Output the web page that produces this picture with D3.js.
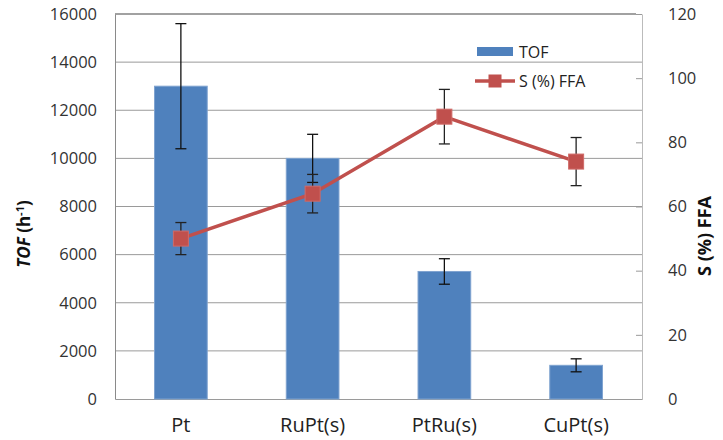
<!DOCTYPE html>
<html>
<head>
<meta charset="utf-8">
<script src="https://cdn.jsdelivr.net/npm/d3@7"></script>
<style>
  body { margin: 0; background: #fff; }
  text { font-family: "Open Sans", sans-serif; }
</style>
</head>
<body>
<svg id="chart"></svg>
<script>
// data
const catalysts = ['Pt', 'RuPt(s)', 'PtRu(s)', 'CuPt(s)'];
const tof = [13000, 10000, 5300, 1400];
const tofErr = [2600, 1000, 530, 270];
const sFFA = [50, 64, 88, 74];
const sErr = [5, 6, 8.5, 7.5];
const tofTicks = [0, 2000, 4000, 6000, 8000, 10000, 12000, 14000, 16000];
const sTicks = [0, 20, 40, 60, 80, 100, 120];

const config = {
  width: 723, height: 440,
  margin: { top: 14, right: 81, bottom: 41, left: 115 }
};
const width = config.width - config.margin.left - config.margin.right;
const height = config.height - config.margin.top - config.margin.bottom;

const data = catalysts.map((c, i) => ({ name: c, tof: tof[i], tofErr: tofErr[i], s: sFFA[i], sErr: sErr[i] }));

const svg = d3.select('#chart')
  .attr('width', config.width)
  .attr('height', config.height);

const chart = svg.append('g')
  .attr('transform', `translate(${config.margin.left},${config.margin.top})`);

const xScale = d3.scaleBand()
  .domain(catalysts)
  .range([0, width])
  .paddingInner(0.6)
  .paddingOuter(0.3);

const yScale = d3.scaleLinear().domain([0, 16000]).range([height, 0]);
const y2Scale = d3.scaleLinear().domain([0, 120]).range([height, 0]);

// gridlines
chart.append('g')
  .selectAll('line')
  .data(tofTicks.slice(1, -1))
  .join('line')
  .attr('x1', 0).attr('x2', width)
  .attr('y1', d => yScale(d)).attr('y2', d => yScale(d))
  .attr('stroke', '#9a9a9a')
  .attr('stroke-width', 1);

// top border
chart.append('line')
  .attr('x1', 0).attr('x2', width - 6)
  .attr('y1', 0).attr('y2', 0)
  .attr('stroke', '#444')
  .attr('stroke-width', 1.2);

// left axis
const yAxis = d3.axisLeft(yScale).tickValues(tofTicks).tickFormat(d3.format('d')).tickSize(0).tickPadding(18);
const yAxisG = chart.append('g').call(yAxis);
yAxisG.select('.domain').attr('stroke', '#8a8a8a');
yAxisG.selectAll('text').attr('font-size', 16.5).attr('fill', '#333');

// right axis
const y2Axis = d3.axisRight(y2Scale).tickValues(sTicks).tickSize(-6).tickSizeOuter(0).tickPadding(26);
const y2AxisG = chart.append('g').attr('transform', `translate(${width},0)`).call(y2Axis);
y2AxisG.select('.domain').attr('stroke', '#bbb');
y2AxisG.selectAll('.tick line').attr('stroke', '#999');
y2AxisG.selectAll('text').attr('font-size', 16.5).attr('fill', '#333');

// bottom axis
const xAxis = d3.axisBottom(xScale).tickSize(0).tickPadding(19);
const xAxisG = chart.append('g').attr('transform', `translate(0,${height})`).call(xAxis);
xAxisG.select('.domain').attr('stroke', '#9a9a9a');
xAxisG.selectAll('text').attr('font-size', 20).attr('fill', '#222');

// bars
chart.selectAll('.bar')
  .data(data)
  .join('rect')
  .attr('class', 'bar')
  .attr('x', d => xScale(d.name))
  .attr('y', d => yScale(d.tof))
  .attr('width', xScale.bandwidth())
  .attr('height', d => height - yScale(d.tof))
  .attr('fill', '#4F81BD')
  .attr('stroke', '#7FA3D0')
  .attr('stroke-width', 1);

const cx = d => xScale(d.name) + xScale.bandwidth() / 2;

function errorBars(scale, val, err, color) {
  const g = chart.append('g').selectAll('g').data(data).join('g');
  g.append('line')
    .attr('x1', cx).attr('x2', cx)
    .attr('y1', d => scale(val(d) + err(d)))
    .attr('y2', d => scale(val(d) - err(d)))
    .attr('stroke', color).attr('stroke-width', 1.3);
  [1, -1].forEach(s => {
    g.append('line')
      .attr('x1', d => cx(d) - 5.5).attr('x2', d => cx(d) + 5.5)
      .attr('y1', d => scale(val(d) + s * err(d)))
      .attr('y2', d => scale(val(d) + s * err(d)))
      .attr('stroke', color).attr('stroke-width', 1.3);
  });
}

errorBars(yScale, d => d.tof, d => d.tofErr, '#111');

// S (%) FFA line
const line = d3.line()
  .x(cx)
  .y(d => y2Scale(d.s));

chart.append('path')
  .datum(data)
  .attr('fill', 'none')
  .attr('stroke', '#C0504D')
  .attr('stroke-width', 3.5)
  .attr('d', line);

errorBars(y2Scale, d => d.s, d => d.sErr, '#222');

const ms = 15;
chart.selectAll('.marker')
  .data(data)
  .join('rect')
  .attr('class', 'marker')
  .attr('x', d => cx(d) - ms / 2)
  .attr('y', d => y2Scale(d.s) - ms / 2)
  .attr('width', ms).attr('height', ms)
  .attr('fill', '#C0504D')
  .attr('stroke', '#D06A67')
  .attr('stroke-width', 1);

// legend
const legend = svg.append('g').attr('transform', 'translate(477,0)');
legend.append('rect')
  .attr('x', 0).attr('y', 47).attr('width', 36).attr('height', 9)
  .attr('fill', '#4F81BD');
legend.append('text')
  .attr('x', 42).attr('y', 58)
  .attr('font-size', 16).attr('fill', '#222')
  .text('TOF');
legend.append('line')
  .attr('x1', -2).attr('x2', 38).attr('y1', 81).attr('y2', 81)
  .attr('stroke', '#C0504D').attr('stroke-width', 3.5);
legend.append('rect')
  .attr('x', 18 - 6.5).attr('y', 81 - 6.5).attr('width', 13).attr('height', 13)
  .attr('fill', '#C0504D');
legend.append('text')
  .attr('x', 42).attr('y', 87)
  .attr('font-size', 16).attr('fill', '#222')
  .text('S (%) FFA');

// axis titles
const t1 = svg.append('text')
  .attr('transform', 'translate(30,234) rotate(-90)')
  .attr('text-anchor', 'middle')
  .attr('font-size', 17)
  .attr('font-weight', 'bold')
  .attr('fill', '#111');
t1.append('tspan').attr('font-style', 'italic').text('TOF');
t1.append('tspan').text(' (h');
t1.append('tspan').attr('font-size', 11).attr('dy', -6).text('-1');
t1.append('tspan').attr('dy', 6).text(')');

svg.append('text')
  .attr('transform', 'translate(711,236) rotate(-90)')
  .attr('text-anchor', 'middle')
  .attr('font-size', 18)
  .attr('font-weight', 'bold')
  .attr('fill', '#111')
  .text('S (%) FFA');
</script>
</body>
</html>
